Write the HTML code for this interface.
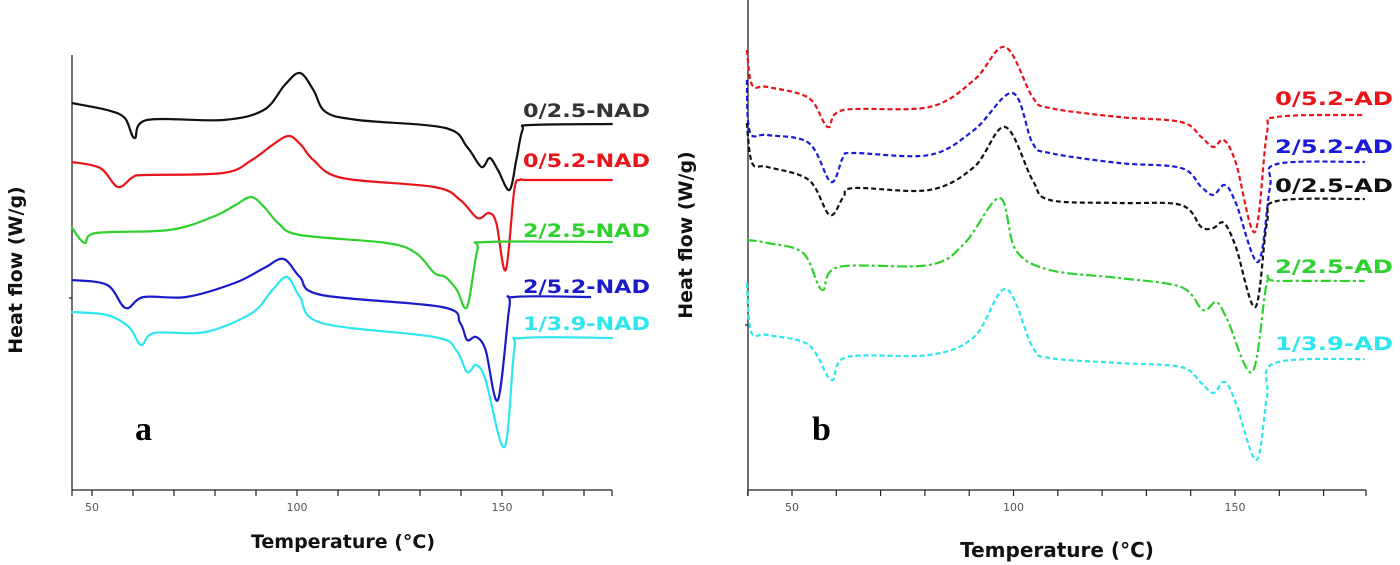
<!DOCTYPE html>
<html><head><meta charset="utf-8"><style>
html,body{margin:0;padding:0;background:#fff;width:1400px;height:565px;overflow:hidden}
svg{display:block}
</style></head><body>
<svg id="c" width="1400" height="565" viewBox="0 0 1400 565" xmlns="http://www.w3.org/2000/svg"></svg>
<script>
// ---- Data (temperature in °C, heat flow in arbitrary offset units) ----
const tA_black=[45,53.7,58,60.4,63.4,82,91.9,97,100.7,104,107,114.9,136.2,141.5,145,147,149,151.8,153.5,155,157,177];
const vA_black=[387,380,372,352,370,370,380,405,417,400,378,370,362,343,323,332,320,300,330,360,365,366];
const tA_red=[45,52,56.3,60,63,82,89,94,98,101,104,111,133.5,139.8,144,146.8,148.6,150.9,153,154.4,157,177];
const vA_red=[328,322,303,313,315,317,330,345,354,345,330,312,303,290,272,277,267,220,300,310,310,310];
const tA_green=[45,48.2,51,68.8,79.4,85,88.8,92,95.4,100.7,121.9,129,133.5,136.2,139,141.5,144,146.3,177];
const vA_green=[263,247,257,260,273,285,293,283,267,255,247,237,217,213,200,183,240,248,248];
const tA_blue=[45,53.7,58.2,62.6,73,84.8,92,96.7,100.7,106,135.4,139.8,141.5,143.7,146,149,151.8,153,171.7];
const vA_blue=[210,205,182,193,193,207,222,231,213,195,183,167,150,153,140,90,183,193,193];
const tA_cyan=[45,53.7,59,62,65.2,77.7,89,94,97.6,100.7,106,133.5,138.8,141.5,143.7,146,150.6,153,155,177];
const vA_cyan=[178,175,163,145,157,158,177,200,213,193,167,153,140,118,125,110,43,140,152,152];
const tB_red=[39.8,41,44.5,53.8,58.1,61.6,81,91.1,98.1,104.3,108.2,123.8,137.8,142.4,145.1,147.5,150.2,154.5,157.2,159.5,179.3];
const vB_red=[440,405,403,392,363,380,383,410,443,393,382,373,368,353,343,350,327,258,357,373,375];
const tB_blue=[39.8,40.5,44.5,53.8,58.8,61.6,64,81,91.1,99.8,104.3,108.2,123.8,137.8,142.4,145.1,147.7,150.2,155.2,157.9,159.5,179.3];
const vB_blue=[410,358,355,347,308,333,337,335,360,397,347,337,327,322,303,295,305,287,228,303,326,328];
const tB_black=[39.8,41,44.5,53.8,58.5,61.6,64,81,91.1,98.1,104.3,108.2,123.8,137.8,142.4,145.1,147.5,150.2,154.6,157.2,159.5,179.3];
const vB_black=[367,327,323,310,275,293,302,300,323,363,310,290,287,285,263,262,267,243,183,267,289,291];
const tB_green=[39.8,44.5,52.5,56.8,60.5,81,89,96.9,100.5,108.2,123.8,137.8,142.8,145.8,148.3,153.9,157.2,159.5,179.3];
const vB_green=[250,247,237,200,223,225,247,292,240,220,212,203,180,188,170,118,207,209,209];
const tB_cyan=[39.8,40.8,44.5,53.8,58.9,62.4,81,91.1,98.3,104.3,108.2,123.8,137.8,142.4,145.1,147.7,150.2,154.8,157.2,159,179.3];
const vB_cyan=[207,158,155,145,110,133,135,153,201,143,132,127,123,107,97,108,87,30,93,127,131];
const ticksA=[50,100,150];
const ticksB=[50,100,150];

const NS='http://www.w3.org/2000/svg';
const svg=document.getElementById('c');
function mk(tag,attrs,parent){const e=document.createElementNS(NS,tag);for(const k in attrs)e.setAttribute(k,attrs[k]);(parent||svg).appendChild(e);return e;}

// axis functions
const xA=t=>92+(t-50)*4.1;
const yA=v=>490-v;
const xB=t=>792+(t-50)*4.43;
const yB=v=>490-v;

function smoothPath(ts,vs,fx,fy){
  const p=ts.map((t,i)=>[fx(t),fy(vs[i])]);
  let d='M'+p[0][0].toFixed(1)+','+p[0][1].toFixed(1);
  for(let i=0;i<p.length-1;i++){
    const p0=p[i-1]||p[i],p1=p[i],p2=p[i+1],p3=p[i+2]||p2;
    const c1=[p1[0]+(p2[0]-p0[0])/6,p1[1]+(p2[1]-p0[1])/6];
    const c2=[p2[0]-(p3[0]-p1[0])/6,p2[1]-(p3[1]-p1[1])/6];
    d+=' C'+c1[0].toFixed(1)+','+c1[1].toFixed(1)+' '+c2[0].toFixed(1)+','+c2[1].toFixed(1)+' '+p2[0].toFixed(1)+','+p2[1].toFixed(1);
  }
  return d;
}

function axes(x0,x1,ytop,fx,ticks,tmin,tmax,midTickY,panel){
  const g=mk('g',{});
  
  
  const ya=mk('line',{x1:x0,y1:ytop,x2:x0,y2:490,stroke:'#222','stroke-width':1.3},g);
  
  
  const xa=mk('line',{x1:x0,y1:490,x2:x1,y2:490,stroke:'#222','stroke-width':1.3},g);
  
  
  mk('line',{x1:x0,y1:midTickY,x2:x0-3,y2:midTickY,stroke:'#222','stroke-width':1.3},g);
  for(let t=Math.ceil(tmin/10)*10;t<=tmax;t+=10){
    mk('line',{x1:fx(t),y1:490,x2:fx(t),y2:496,stroke:'#222','stroke-width':1.2},g);
  }
  mk('line',{x1:x0,y1:490,x2:x0,y2:496,stroke:'#222','stroke-width':1.2},g);
  mk('line',{x1:x1,y1:490,x2:x1,y2:496,stroke:'#222','stroke-width':1.2},g);
  ticks.forEach(t=>{
    const tx=mk('text',{x:fx(t),y:511,'text-anchor':'middle','font-family':'DejaVu Sans, Liberation Sans, sans-serif','font-size':11,fill:'#555'},g);
    tx.textContent=t;
    
    
  });
}

function series(ts,vs,fx,fy,color,dash,name){
  const p=mk('path',{d:smoothPath(ts,vs,fx,fy),fill:'none',stroke:color,'stroke-width':2.2,'stroke-dasharray':dash,'stroke-linejoin':'round'});
  
  
}
function label(x,y,txt,color,len,name){
  const t=mk('text',{x:x-len,y:y,textLength:len,lengthAdjust:'spacingAndGlyphs','font-family':'DejaVu Sans, Liberation Sans, sans-serif','font-weight':'bold','font-size':19,fill:color});
  t.textContent=txt;
  
  
}
function text(x,y,txt,attrs,name){
  const t=mk('text',Object.assign({x:x,y:y},attrs));
  t.textContent=txt;
  
  
  return t;
}

// Panel a
axes(72,612,55,xA,ticksA,45,177,298,'panel-a');
series(tA_black,vA_black,xA,yA,'#111','none','curve-0-2.5-nad');
series(tA_red,vA_red,xA,yA,'#e8141a','none','curve-0-5.2-nad');
series(tA_green,vA_green,xA,yA,'#2ed12e','none','curve-2-2.5-nad');
series(tA_blue,vA_blue,xA,yA,'#1a1ac8','none','curve-2-5.2-nad');
series(tA_cyan,vA_cyan,xA,yA,'#2ee6ee','none','curve-1-3.9-nad');
label(650,117,'0/2.5-NAD','#333',127,'legend-0-2.5-nad');
label(650,167,'0/5.2-NAD','#e8141a',127,'legend-0-5.2-nad');
label(650,237,'2/2.5-NAD','#2ed12e',127,'legend-2-2.5-nad');
label(650,293,'2/5.2-NAD','#1a1ac8',127,'legend-2-5.2-nad');
label(650,330,'1/3.9-NAD','#2ee6ee',127,'legend-1-3.9-nad');
text(135,440,'a',{'font-family':'Liberation Serif, serif','font-weight':'bold','font-size':34,fill:'#000'},'panel-a-letter');
text(343,548,'Temperature (°C)',{'text-anchor':'middle','font-family':'DejaVu Sans, Liberation Sans, sans-serif','font-weight':'bold','font-size':19,fill:'#111'},'panel-a-x-axis-title');
text(0,0,'Heat flow (W/g)',{'text-anchor':'middle','font-family':'DejaVu Sans, Liberation Sans, sans-serif','font-weight':'bold','font-size':19,fill:'#111',transform:'translate(22,270) rotate(-90)'},'panel-a-y-axis-title');

// Panel b
axes(748,1366,0,xB,ticksB,40,179,325,'panel-b');
series(tB_red,vB_red,xB,yB,'#e8141a','5 3','curve-0-5.2-ad');
series(tB_blue,vB_blue,xB,yB,'#1a1ad8','5 3','curve-2-5.2-ad');
series(tB_black,vB_black,xB,yB,'#111','5 3','curve-0-2.5-ad');
series(tB_green,vB_green,xB,yB,'#2ed12e','10 3 3 3','curve-2-2.5-ad');
series(tB_cyan,vB_cyan,xB,yB,'#2ee6ee','5 3','curve-1-3.9-ad');
label(1393,105,'0/5.2-AD','#e8141a',118,'legend-0-5.2-ad');
label(1393,153,'2/5.2-AD','#1a1ad8',118,'legend-2-5.2-ad');
label(1393,192,'0/2.5-AD','#111',118,'legend-0-2.5-ad');
label(1393,273,'2/2.5-AD','#2ed12e',118,'legend-2-2.5-ad');
label(1393,350,'1/3.9-AD','#2ee6ee',118,'legend-1-3.9-ad');
text(812,440,'b',{'font-family':'Liberation Serif, serif','font-weight':'bold','font-size':34,fill:'#000'},'panel-b-letter');
text(1057,557,'Temperature (°C)',{'text-anchor':'middle','font-family':'DejaVu Sans, Liberation Sans, sans-serif','font-weight':'bold','font-size':20,fill:'#111'},'panel-b-x-axis-title');
text(0,0,'Heat flow (W/g)',{'text-anchor':'middle','font-family':'DejaVu Sans, Liberation Sans, sans-serif','font-weight':'bold','font-size':19,fill:'#111',transform:'translate(692,235) rotate(-90)'},'panel-b-y-axis-title');
</script>
</body></html>
